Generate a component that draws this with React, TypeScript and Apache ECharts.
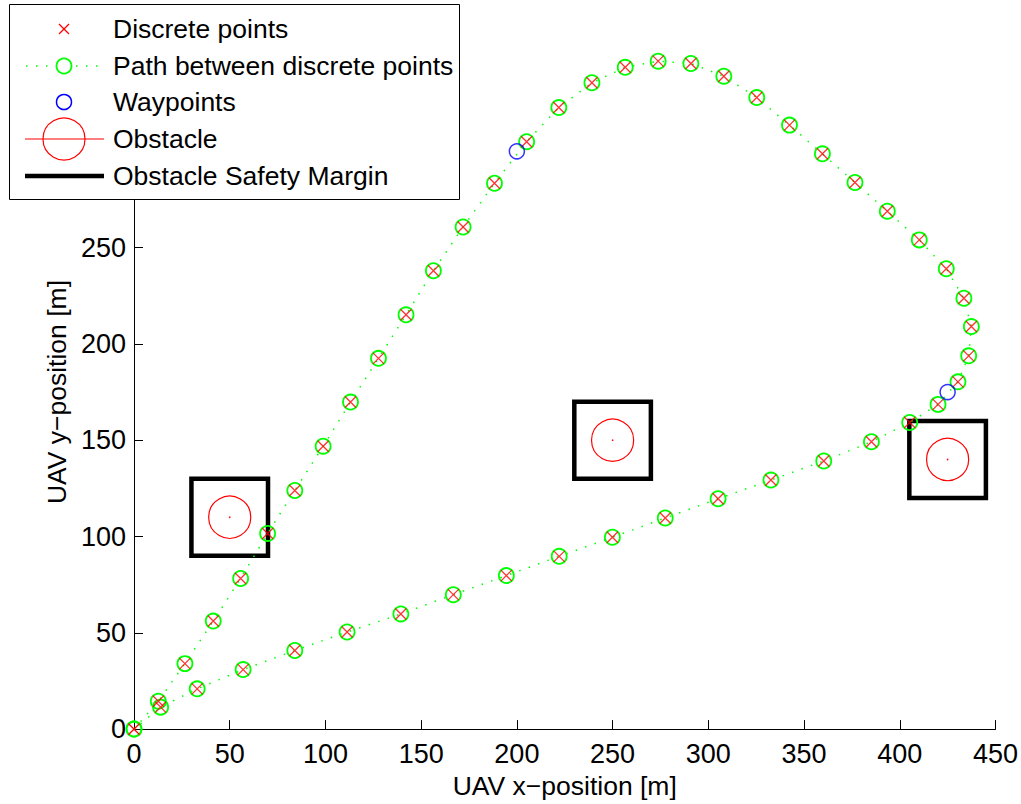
import React, { useEffect, useRef } from 'react';
import * as echarts from 'echarts';

// Discrete path points (outbound then return)
const pathX = [0, 12.7, 26.6, 41.4, 55.7, 69.8, 84, 98.8, 113.1, 127.7, 142.1, 156.4, 171.9, 188.3, 205.1, 221.9, 239.2, 256.6, 273.8, 290.9, 308.1, 325.3, 342.4, 359.6, 376.6, 393.5, 410.2, 424.3, 433.5, 437.4, 436, 430.4, 420, 405.2, 385.2, 360.3, 332.7, 305.1, 277.5, 249.9, 222.1, 194.5, 166.8, 139.4, 111.3, 84, 57, 33, 13.9, 0];
const pathY = [0, 14.5, 34, 56.1, 78.2, 101.6, 123.9, 146.9, 169.8, 192.5, 215.1, 238, 260.7, 283.4, 305, 322.7, 335.6, 343.6, 346.8, 345.6, 339, 327.9, 313.6, 298.7, 283.8, 268.9, 254, 239, 223.7, 209, 193.8, 180.3, 168.6, 159.2, 149.2, 139.2, 129.3, 119.6, 109.6, 99.6, 89.7, 79.7, 69.8, 59.8, 50.4, 40.8, 30.9, 20.9, 11.4, 0];

// Waypoints
const wpX = [200, 425];
const wpY = [300, 175];

// Obstacles
const obsX = [50, 250, 425];
const obsY = [110, 150, 140];
const obsRadius = [11, 11, 11];
const obsMargin = [20, 20, 20];

// Axis ticks
const xTicks = { min: 0, max: 450, interval: 50 };
const yTicks = { min: 0, max: 350, interval: 50, lastShown: 250 };

const legendLabels = ['Discrete points', 'Path between discrete points', 'Waypoints', 'Obstacle', 'Obstacle Safety Margin'];

const FONT = '"Liberation Sans", Arial, Helvetica, sans-serif';

export default function App() {
  const ref = useRef<HTMLDivElement>(null);
  useEffect(() => {
    if (!ref.current) return;
    const chart = echarts.init(ref.current, null, { renderer: 'svg' });
    const pathData = pathX.map((x, i) => [x, pathY[i]]);
    const wpData = wpX.map((x, i) => [x, wpY[i]]);
    const obsData = obsX.map((x, i) => [x, obsY[i], obsRadius[i], obsMargin[i]]);

    const rowY = [29, 66, 102, 139, 176];
    const iconX = 64;
    const textX = 113;
    const legendGraphics: any[] = [
      { type: 'rect', shape: { x: 9.5, y: 4.5, width: 450, height: 195 }, style: { fill: '#fff', stroke: '#000', lineWidth: 1 }, z: 100 },
      // row 1: red x
      { type: 'line', shape: { x1: iconX - 5, y1: rowY[0] - 5, x2: iconX + 5, y2: rowY[0] + 5 }, style: { stroke: '#ff0000', lineWidth: 1.2 }, z: 101 },
      { type: 'line', shape: { x1: iconX - 5, y1: rowY[0] + 5, x2: iconX + 5, y2: rowY[0] - 5 }, style: { stroke: '#ff0000', lineWidth: 1.2 }, z: 101 },
      // row 2: dotted green + circle
      { type: 'line', shape: { x1: 26, y1: rowY[1], x2: 104, y2: rowY[1] }, style: { stroke: '#00ff00', lineWidth: 1.5, lineDash: [1.5, 8.5] }, z: 101 },
      { type: 'circle', shape: { cx: iconX, cy: rowY[1], r: 7.5 }, style: { fill: '#fff', stroke: '#00ff00', lineWidth: 1.8 }, z: 102 },
      // row 3: blue circle
      { type: 'circle', shape: { cx: iconX, cy: rowY[2], r: 7.5 }, style: { fill: 'none', stroke: '#0000ff', lineWidth: 1.5 }, z: 101 },
      // row 4: obstacle
      { type: 'line', shape: { x1: 25, y1: rowY[3], x2: 104, y2: rowY[3] }, style: { stroke: '#ff0000', lineWidth: 1.2 }, z: 101 },
      { type: 'circle', shape: { cx: iconX, cy: rowY[3], r: 21 }, style: { fill: 'none', stroke: '#ff0000', lineWidth: 1.2 }, z: 101 },
      // row 5: thick black
      { type: 'line', shape: { x1: 25, y1: rowY[4], x2: 104, y2: rowY[4] }, style: { stroke: '#000', lineWidth: 4.5 }, z: 101 },
    ];
    legendLabels.forEach((t, i) => {
      legendGraphics.push({
        type: 'text', x: textX, y: rowY[i], z: 101,
        style: { text: t, fontSize: 26.5, fontFamily: FONT, fill: '#000', verticalAlign: 'middle', align: 'left' },
      });
    });

    const axisCommon = {
      type: 'value',
      axisLine: { show: true, lineStyle: { color: '#000', width: 1 } },
      axisTick: { show: true, inside: true, length: 9, lineStyle: { color: '#000', width: 1 } },
      splitLine: { show: false },
      nameLocation: 'middle',
      nameTextStyle: { fontSize: 26.5, fontFamily: FONT, color: '#000' },
    };

    chart.setOption({
      animation: false,
      backgroundColor: '#fff',
      grid: { left: 134, right: 25, top: 55, bottom: 67, containLabel: false },
      xAxis: {
        ...axisCommon,
        min: xTicks.min, max: xTicks.max, interval: xTicks.interval,
        name: 'UAV x\u2212position [m]',
        nameGap: 42,
        axisLabel: { fontSize: 27, fontFamily: FONT, color: '#000', margin: 11 },
      },
      yAxis: {
        ...axisCommon,
        min: yTicks.min, max: yTicks.max, interval: yTicks.interval,
        name: 'UAV y\u2212position [m]',
        nameGap: 61,
        nameRotate: 90,
        axisLabel: {
          fontSize: 27, fontFamily: FONT, color: '#000', margin: 8,
          formatter: (v: number) => (v > yTicks.lastShown ? '' : String(v)),
        },
      },
      series: [
        {
          name: 'Obstacle',
          type: 'custom',
          z: 1,
          data: obsData,
          renderItem: (params: any, api: any) => {
            const c = api.coord([api.value(0), api.value(1)]);
            const r = api.size([api.value(2), api.value(2)])[0];
            const m = api.size([api.value(3), api.value(3)]);
            return {
              type: 'group',
              children: [
                { type: 'rect', shape: { x: c[0] - m[0], y: c[1] - m[1], width: 2 * m[0], height: 2 * m[1] }, style: { fill: 'none', stroke: '#000', lineWidth: 4.5 } },
                { type: 'circle', shape: { cx: c[0], cy: c[1], r }, style: { fill: 'none', stroke: '#ff0000', lineWidth: 1.2 } },
                { type: 'circle', shape: { cx: c[0], cy: c[1], r: 0.8 }, style: { fill: '#ff0000' } },
              ],
            };
          },
        },
        {
          name: 'Path between discrete points',
          type: 'line',
          z: 2,
          data: pathData,
          symbol: 'circle',
          symbolSize: 15,
          showAllSymbol: true,
          lineStyle: { color: '#00ff00', width: 1.5, type: [1.5, 8.5] },
          itemStyle: { color: 'transparent', borderColor: '#00ff00', borderWidth: 1.8 },
        },
        {
          name: 'Discrete points',
          type: 'scatter',
          z: 3,
          data: pathData,
          symbol: 'path://M0,0L10,10M10,0L0,10',
          symbolSize: 11,
          itemStyle: { color: 'transparent', borderColor: '#ff0000', borderWidth: 1.3 },
        },
        {
          name: 'Waypoints',
          type: 'scatter',
          z: 4,
          data: wpData,
          symbol: 'circle',
          symbolSize: 15,
          itemStyle: { color: 'transparent', borderColor: '#0000ff', borderWidth: 1.5 },
        },
      ],
      graphic: legendGraphics,
    });
    return () => chart.dispose();
  }, []);
  return <div ref={ref} style={{ position: 'fixed', left: 0, top: 0, width: 1021, height: 804, background: '#fff' }} />;
}
